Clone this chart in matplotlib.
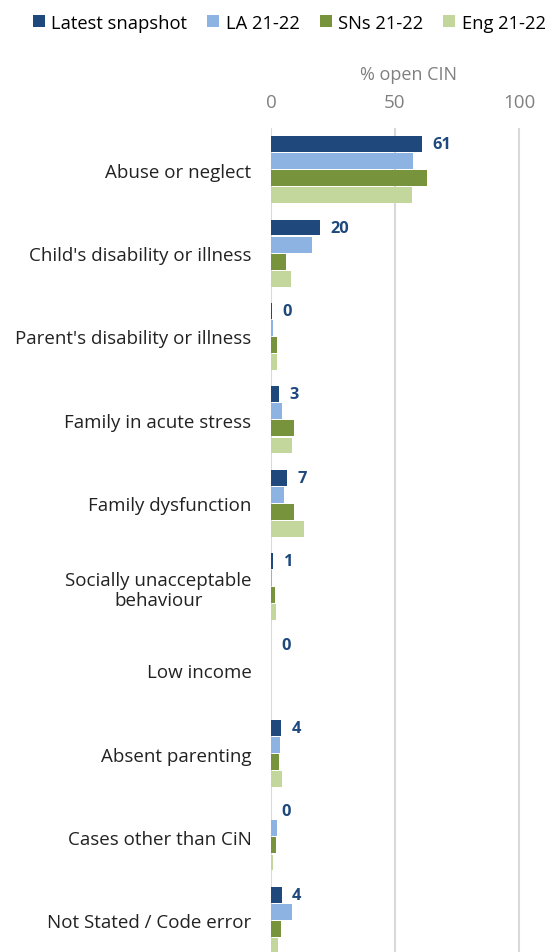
import matplotlib
matplotlib.use("Agg")
import matplotlib.pyplot as plt
import numpy as np
from matplotlib.patches import Patch

categories = ["Abuse or neglect", "Child's disability or illness", "Parent's disability or illness",
              "Family in acute stress", "Family dysfunction", "Socially unacceptable\nbehaviour",
              "Low income", "Absent parenting", "Cases other than CiN", "Not Stated / Code error"]
latest = [60.7, 19.8, 0.4, 3.3, 6.6, 0.9, 0.0, 4.2, 0.0, 4.3]
latest_labels = ["61", "20", "0", "3", "7", "1", "0", "4", "0", "4"]
la = [57.1, 16.7, 0.7, 4.5, 5.4, 0.6, 0.0, 3.6, 2.5, 8.3]
sns_ = [62.8, 6.0, 2.5, 9.1, 9.4, 1.6, 0.0, 3.4, 2.1, 4.2]
eng = [57.0, 7.9, 2.3, 8.6, 13.3, 2.0, 0.2, 4.5, 0.8, 2.9]
series_names = ["Latest snapshot", "LA 21-22", "SNs 21-22", "Eng 21-22"]
colors = ["#1f497d", "#8db3e2", "#77933c", "#c3d69b"]
xticks = [0, 50, 100]

plt.rcParams['font.family'] = ['Open Sans', 'DejaVu Sans']

W, H = 548, 953
fig = plt.figure(figsize=(W/100, H/100), dpi=100)
left, right = 271/W, 545/W
top_px, bot_px = 129, 953
ax = fig.add_axes([left, 1 - bot_px/H, right - left, (bot_px - top_px)/H])

n = len(categories)
y = np.arange(n)
pitch = 0.204
series = [latest, la, sns_, eng]
for i, (vals, c) in enumerate(zip(series, colors)):
    offs = (i - 1.5) * pitch
    ax.barh(y + offs, vals, height=pitch * 0.93, color=c, linewidth=0, zorder=3)

for yi, v, lab in zip(y, latest, latest_labels):
    ax.annotate(lab, xy=(v, yi - 1.5 * pitch), xytext=(7.5, 0), textcoords="offset points",
                ha="left", va="center", fontsize=11.8, fontweight="bold", color="#1f497d")

span = (bot_px - top_px) / 83.4
ax.set_ylim(-0.5 + span, -0.5)
ax.set_xlim(0, 110.5)
ax.set_yticks(y)
ax.set_yticklabels(categories, fontsize=13.5, color="#222222", ha="right")
ax.tick_params(axis="y", length=0, pad=14)
ax.xaxis.tick_top()
ax.xaxis.set_label_position("top")
ax.set_xticks(xticks)
ax.set_xticklabels([str(t) for t in xticks], fontsize=13.5, color="#808080")
ax.tick_params(axis="x", length=0, pad=12)
ax.set_xlabel("% open CIN", fontsize=13, color="#808080", labelpad=10.5)
for t in ax.get_yticklabels():
    t.set_multialignment("center")
ax.grid(axis="x", color="#d9d9d9", linewidth=1.5, zorder=0)
for s in ax.spines.values():
    s.set_visible(False)

handles = [Patch(facecolor=c, edgecolor="none") for c in colors]
fig.legend(handles, series_names, loc="upper center", bbox_to_anchor=(0.528, 1.0), ncol=4,
           frameon=False, fontsize=13.2, handlelength=0.65, handleheight=0.65, handletextpad=0.35,
           columnspacing=1.1, borderaxespad=0.4)

fig.savefig("out.png", dpi=100)
